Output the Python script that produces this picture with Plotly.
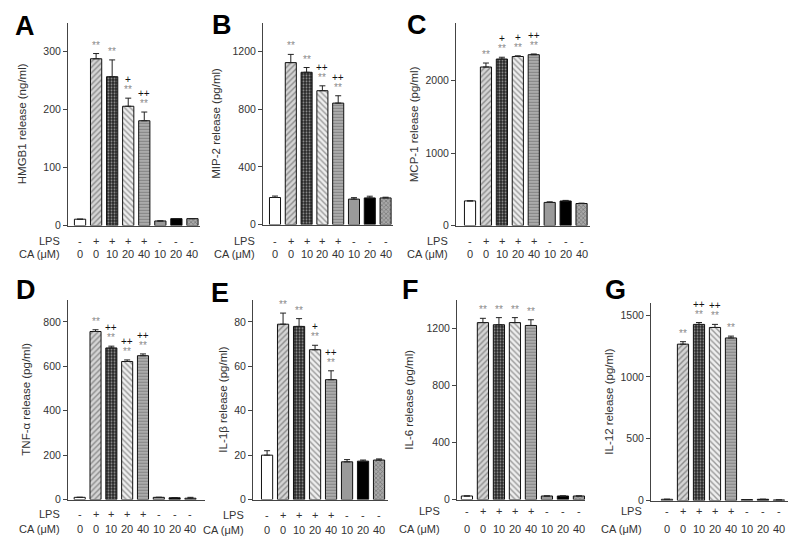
import plotly.graph_objects as go

# ---------------- data ----------------
LPS = ["-", "+", "+", "+", "+", "-", "-", "-"]
CA = ["0", "0", "10", "20", "40", "10", "20", "40"]

hmgb1 = [11, 288, 257, 206, 181, 8, 12, 12]
hmgb1_err = [0, 9, 29, 14, 15, 0, 0, 0]
mip2 = [188, 1124, 1057, 929, 843, 177, 185, 185]
mip2_err = [10, 57, 33, 34, 51, 10, 12, 5]
mcp1 = [341, 2190, 2300, 2335, 2360, 320, 340, 305]
mcp1_err = [0, 55, 25, 10, 10, 8, 8, 5]
tnfa = [10, 757, 683, 622, 648, 10, 8, 6]
tnfa_err = [0, 8, 8, 7, 8, 0, 0, 4]
il1b = [20, 79, 78, 67.5, 54, 17, 17.3, 17.8]
il1b_err = [2, 5, 3.5, 2, 4, 1, 0.5, 0.5]
il6 = [25, 1240, 1225, 1240, 1220, 25, 25, 25]
il6_err = [0, 30, 50, 35, 40, 0, 0, 0]
il12 = [10, 1265, 1425, 1400, 1315, 8, 10, 5]
il12_err = [0, 20, 15, 25, 15, 0, 0, 0]

stars_A = ["", "**", "**", "**", "**", "", "", ""]
plus_A = ["", "", "", "+", "++", "", "", ""]
stars_B = ["", "**", "**", "**", "**", "", "", ""]
plus_B = ["", "", "", "++", "++", "", "", ""]
stars_C = ["", "**", "**", "**", "**", "", "", ""]
plus_C = ["", "", "+", "+", "++", "", "", ""]
stars_D = ["", "**", "**", "**", "**", "", "", ""]
plus_D = ["", "", "++", "++", "++", "", "", ""]
stars_E = ["", "**", "**", "**", "**", "", "", ""]
plus_E = ["", "", "", "+", "++", "", "", ""]
stars_F = ["", "**", "**", "**", "**", "", "", ""]
plus_F = ["", "", "", "", "", "", "", ""]
stars_G = ["", "**", "**", "**", "**", "", "", ""]
plus_G = ["", "", "++", "++", "", "", "", ""]

titles = ["HMGB1 release (ng/ml)", "MIP-2 release (pg/ml)", "MCP-1 release (pg/ml)",
          "TNF-\u03b1 release (pg/ml)", "IL-1\u03b2 release (pg/ml)", "IL-6 release (pg/ml)",
          "IL-12 release (pg/ml)"]
letters = ["A", "B", "C", "D", "E", "F", "G"]

panels_data = [
    (hmgb1, hmgb1_err, stars_A, plus_A, 350, 100),
    (mip2, mip2_err, stars_B, plus_B, 1400, 400),
    (mcp1, mcp1_err, stars_C, plus_C, 2800, 1000),
    (tnfa, tnfa_err, stars_D, plus_D, 900, 200),
    (il1b, il1b_err, stars_E, plus_E, 90, 20),
    (il6, il6_err, stars_F, plus_F, 1400, 400),
    (il12, il12_err, stars_G, plus_G, 1600, 500),
]

# ---------------- layout geometry (pixels) ----------------
W, H = 796, 548
# x0, x1, ytop, ybot, xrange, title_x, letter(x,y), rowlabel_x, row1_y, row2_y
geom = [
    (60, 192, 15, 220, (-0.75, 7.47), 14, (17, 18), 54, 236, 249),
    (255, 385, 15, 219, (-0.76, 7.47), 208, (214, 17), 249, 236, 249),
    (448, 582, 15, 220, (-0.88, 7.53), 406, (409, 17), 442, 236, 249),
    (60, 197, 295, 497, (-0.74, 7.92), 18, (18, 285), 54, 512, 527),
    (245, 380, 295, 497, (-0.88, 7.56), 215, (212, 288), 238, 513, 528),
    (449, 577, 295, 497, (-0.62, 7.38), 401, (402, 285), 434, 509, 527),
    (643, 786, 298, 498, (-1.0, 7.94), 601, (607, 285), 636, 509, 527),
]

shapes_pat = ["", "/", ".", "\\", "-", "", "", "x"]
bgcols = ["#ffffff", "#d4d4d4", "#262626", "#eeeeee", "#c4c4c4", "#9a9a9a", "#000000", "#a8a8a8"]
fgcols = ["#000000", "#4a4a4a", "#b0b0b0", "#555555", "#101010", "#000000", "#000000", "#3a3a3a"]
sizes = [4, 4, 3, 4, 3, 4, 4, 3]
solid = [0.3, 0.35, 0.35, 0.35, 0.6, 0.3, 0.3, 0.4]

FONT = "Arial, 'Liberation Sans', sans-serif"
fig = go.Figure()
annotations = []
layout = dict(width=W, height=H, margin=dict(l=0, r=0, t=0, b=0),
              paper_bgcolor="white", plot_bgcolor="white", showlegend=False,
              font=dict(family=FONT, color="#333333"))

xs = list(range(8))
for k, ((vals, errs, stars, plus, ymax, dt), g) in enumerate(zip(panels_data, geom)):
    x0, x1, yt, yb, xr, tx, (lx, ly), rlx, r1, r2 = g
    n = k + 1
    xa = f"x{n}" if n > 1 else "x"
    ya = f"y{n}" if n > 1 else "y"
    fig.add_trace(go.Bar(
        x=xs, y=vals, xaxis=xa, yaxis=ya, width=0.7,
        marker=dict(color=bgcols, line=dict(color="#111111", width=1),
                    pattern=dict(shape=shapes_pat, bgcolor=bgcols, fgcolor=fgcols,
                                 size=sizes, solidity=solid)),
        error_y=dict(type="data", array=errs, arrayminus=[0] * 8, symmetric=False,
                     color="#222222", thickness=1, width=3),
        hoverinfo="skip"))
    layout[f"xaxis{n}" if n > 1 else "xaxis"] = dict(
        domain=[x0 / W, x1 / W], anchor=ya, range=list(xr), showline=True,
        linecolor="#444444", linewidth=1, showticklabels=False, ticks="",
        showgrid=False, zeroline=False, fixedrange=True)
    layout[f"yaxis{n}" if n > 1 else "yaxis"] = dict(
        domain=[1 - yb / H, 1 - yt / H], anchor=xa, range=[0, ymax], dtick=dt,
        showline=True, linecolor="#444444", linewidth=1, ticks="outside",
        ticklen=4, tickcolor="#444444", showgrid=False, zeroline=False,
        tickfont=dict(size=10.5, color="#333333"), fixedrange=True)
    # y title
    annotations.append(dict(text=titles[k], xref="paper", yref="paper",
                            x=tx / W, y=1 - (yt + yb) / 2 / H, textangle=-90,
                            showarrow=False, font=dict(size=11.5, color="#333333"),
                            xanchor="center", yanchor="middle"))
    # panel letter
    annotations.append(dict(text=f"<b>{letters[k]}</b>", xref="paper", yref="paper",
                            x=lx / W, y=1 - ly / H, showarrow=False,
                            font=dict(size=27, color="#000000"),
                            xanchor="center", yanchor="middle"))
    # row labels
    annotations.append(dict(text="LPS", xref="paper", yref="paper", x=rlx / W,
                            y=1 - r1 / H, showarrow=False, xanchor="right",
                            yanchor="middle", font=dict(size=11, color="#333333")))
    annotations.append(dict(text="CA (\u03bcM)", xref="paper", yref="paper", x=rlx / W,
                            y=1 - r2 / H, showarrow=False, xanchor="right",
                            yanchor="middle", font=dict(size=11, color="#333333")))
    for i in range(8):
        annotations.append(dict(text=LPS[i], xref=xa, yref="paper", x=i, y=1 - r1 / H,
                                showarrow=False, xanchor="center", yanchor="middle",
                                font=dict(size=11, color="#333333")))
        annotations.append(dict(text=CA[i], xref=xa, yref="paper", x=i, y=1 - r2 / H,
                                showarrow=False, xanchor="center", yanchor="middle",
                                font=dict(size=11, color="#333333")))
        top = vals[i] + errs[i]
        if stars[i]:
            annotations.append(dict(text=stars[i], xref=xa, yref=ya, x=i, y=top,
                                    showarrow=False, xanchor="center", yanchor="bottom",
                                    yshift=1, font=dict(size=10, color="#8a8a8a")))
        if plus[i]:
            annotations.append(dict(text=plus[i], xref=xa, yref=ya, x=i, y=top,
                                    showarrow=False, xanchor="center", yanchor="bottom",
                                    yshift=11, font=dict(size=10, color="#111111")))

layout["annotations"] = annotations
fig.update_layout(**layout)
fig.write_html("out.html")
